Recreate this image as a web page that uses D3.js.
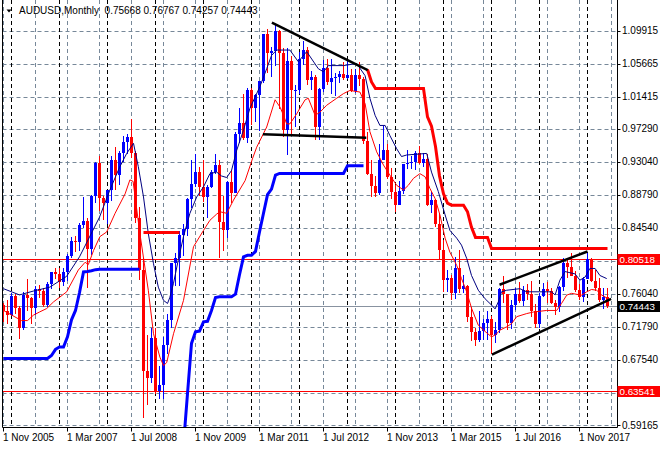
<!DOCTYPE html>
<html><head><meta charset="utf-8">
<script src="https://cdn.jsdelivr.net/npm/d3@7"></script>
<style>
html,body{margin:0;padding:0;background:#fff;}
svg{display:block;}
text{font-family:"Liberation Sans",Arial,sans-serif;font-size:10px;fill:#000;}
</style></head><body>
<svg id="c" width="660" height="450"></svg>
<script>
// ---- data (monthly AUDUSD, bar 0 = Nov 2005) ----
const open = [0.7465,0.7385,0.7335,0.7570,0.7420,0.7160,0.7595,0.7555,0.7425,0.7660,
0.7640,0.7460,0.7735,0.7885,0.7860,0.7760,0.7880,0.8085,0.8280,0.8265,
0.8485,0.8540,0.8180,0.8865,0.9285,0.8840,0.8770,0.8940,0.9330,0.9135,
0.9420,0.9560,0.9625,0.9410,0.8580,0.7905,0.6610,0.6520,0.7030,0.6350,
0.6425,0.6945,0.7265,0.7995,0.8060,0.8365,0.8440,0.8820,0.9015,0.9165,
0.8975,0.8850,0.8975,0.9175,0.9265,0.8530,0.8430,0.9040,0.8905,0.9665,
0.9800,0.9610,1.0225,0.9990,1.0165,1.0340,1.0950,1.0705,1.0725,1.0980,
1.0705,0.9710,1.0595,1.0225,1.0230,1.0625,1.0740,1.0350,1.0390,0.9745,
1.0235,1.0505,1.0335,1.0385,1.0390,1.0435,1.0385,1.0425,1.0210,1.0415,
1.0365,0.9575,0.9140,0.8985,0.8905,0.9325,0.9460,0.9110,0.8920,0.8750,
0.8930,0.9270,0.9290,0.9300,0.9420,0.9290,0.9335,0.8750,0.8805,0.8505,
0.8170,0.7780,0.7805,0.7620,0.7930,0.7665,0.7705,0.7310,0.7110,0.7015,
0.7130,0.7230,0.7285,0.7075,0.7140,0.7665,0.7600,0.7230,0.7455,0.7600,
0.7515,0.7655,0.7605,0.7385,0.7215,0.7580,0.7670,0.7635,0.7480,0.7430,
0.7690,0.7995,0.7950,0.7835,0.7650,0.7565,0.7800,0.8055,0.7765,0.7680,
0.7530,0.75668];
const high = [0.7480,0.7530,0.7620,0.7600,0.7450,0.7630,0.7790,0.7565,0.7700,0.7720,
0.7680,0.7760,0.7890,0.7935,0.7935,0.7930,0.8110,0.8335,0.8345,0.8520,
0.8845,0.8575,0.8870,0.9300,0.9375,0.8865,0.8945,0.9375,0.9495,0.9435,
0.9640,0.9660,0.9850,0.9440,0.8715,0.8065,0.7070,0.7165,0.7160,0.6670,
0.7045,0.7345,0.8000,0.8130,0.8410,0.8500,0.8840,0.9325,0.9405,0.9240,
0.9330,0.9000,0.9200,0.9405,0.9330,0.8860,0.9060,0.9200,0.9690,0.9995,
1.0180,1.0255,1.0255,1.0180,1.0345,1.0950,1.1010,1.0775,1.1080,1.1000,
1.0765,1.0765,1.0660,1.0290,1.0710,1.0855,1.0780,1.0470,1.0420,1.0250,
1.0615,1.0625,1.0625,1.0450,1.0470,1.0590,1.0600,1.0500,1.0500,1.0585,
1.0390,0.9685,0.9320,0.9125,0.9525,0.9760,0.9530,0.9220,0.9000,0.9050,
0.9275,0.9460,0.9375,0.9445,0.9505,0.9420,0.9400,0.8910,0.8830,0.8640,
0.8295,0.7910,0.7845,0.8075,0.8165,0.7840,0.7720,0.7440,0.7165,0.7380,
0.7280,0.7385,0.7325,0.7240,0.7680,0.7835,0.7605,0.7530,0.7675,0.7760,
0.7700,0.7730,0.7775,0.7475,0.7610,0.7740,0.7750,0.7680,0.7520,0.7710,
0.8065,0.8065,0.8125,0.7900,0.7730,0.7815,0.8135,0.8065,0.7915,0.7810,
0.7675,0.76767];
const low = [0.7245,0.7220,0.7320,0.7345,0.7020,0.7135,0.7385,0.7215,0.7330,0.7545,
0.7440,0.7440,0.7665,0.7790,0.7680,0.7710,0.7775,0.8060,0.8145,0.8160,
0.8450,0.7675,0.8100,0.8775,0.8675,0.8560,0.8505,0.8800,0.8935,0.9010,
0.9300,0.9405,0.9355,0.8520,0.7780,0.6009,0.6180,0.6455,0.6320,0.6250,
0.6250,0.6835,0.7170,0.7705,0.7700,0.8090,0.8350,0.8710,0.8975,0.8860,
0.8785,0.8580,0.8960,0.9140,0.8065,0.8160,0.8320,0.8770,0.8895,0.9540,
0.9585,0.9545,0.9775,0.9815,0.9705,1.0315,1.0450,1.0390,1.0530,0.9985,
0.9625,0.9385,0.9665,0.9750,1.0180,1.0545,1.0295,1.0220,0.9580,0.9580,
1.0205,1.0285,1.0180,1.0150,1.0310,1.0360,1.0365,1.0200,1.0185,1.0280,
0.9530,0.9130,0.8850,0.8850,0.8870,0.9325,0.9080,0.8820,0.8660,0.8750,
0.8890,0.9205,0.9205,0.9200,0.9280,0.9240,0.8730,0.8645,0.8460,0.8035,
0.7625,0.7625,0.7530,0.7535,0.7615,0.7610,0.7240,0.7000,0.6935,0.6985,
0.7015,0.7015,0.6825,0.6975,0.7100,0.7490,0.7145,0.7150,0.7395,0.7485,
0.7445,0.7520,0.7310,0.7160,0.7160,0.7560,0.7490,0.7470,0.7330,0.7370,
0.7645,0.7810,0.7830,0.7625,0.7530,0.7500,0.7790,0.7760,0.7640,0.7500,
0.7410,0.74257];
const close = [0.7385,0.7335,0.7570,0.7420,0.7160,0.7595,0.7555,0.7425,0.7660,0.7640,
0.7460,0.7735,0.7885,0.7860,0.7760,0.7880,0.8085,0.8280,0.8265,0.8485,
0.8540,0.8180,0.8865,0.9285,0.8840,0.8770,0.8940,0.9330,0.9135,0.9420,
0.9560,0.9625,0.9410,0.8580,0.7905,0.6610,0.6520,0.7030,0.6350,0.6425,
0.6945,0.7265,0.7995,0.8060,0.8365,0.8440,0.8820,0.9015,0.9165,0.8975,
0.8850,0.8975,0.9175,0.9265,0.8530,0.8430,0.9040,0.8905,0.9665,0.9800,
0.9610,1.0225,0.9990,1.0165,1.0340,1.0950,1.0705,1.0725,1.0980,1.0705,
0.9710,1.0595,1.0225,1.0230,1.0625,1.0740,1.0350,1.0390,0.9745,1.0235,
1.0505,1.0335,1.0385,1.0390,1.0435,1.0385,1.0425,1.0210,1.0415,1.0365,
0.9575,0.9140,0.8985,0.8905,0.9325,0.9460,0.9110,0.8920,0.8750,0.8930,
0.9270,0.9290,0.9300,0.9420,0.9290,0.9335,0.8750,0.8805,0.8505,0.8170,
0.7780,0.7805,0.7620,0.7930,0.7665,0.7705,0.7310,0.7110,0.7015,0.7130,
0.7230,0.7285,0.7075,0.7140,0.7665,0.7600,0.7230,0.7455,0.7600,0.7515,
0.7655,0.7605,0.7385,0.7215,0.7580,0.7670,0.7635,0.7480,0.7430,0.7690,
0.7995,0.7950,0.7835,0.7650,0.7565,0.7800,0.8055,0.7765,0.7680,0.7530,
0.7565,0.74443];

// thin moving-average lines (bar position, price)
const navyBar = [0,4,7.5,11.6,15.8,19,24,26.6,29,30.8,32.5,33.7,35,36.2,37.5,38.7,40,41,41.6,42.5,43.7,45,46.6,48.3,50,51.6,53.3,54.5,55.8,57,58.3,60,61.6,64.1,65.8,67,68.3,71.6,73.7,75.8,78.7,80,81.2,85,88.3,90.4,91.6,92.9,94.1,95.4,96.6,98.3,99.5,100.8,105.8,107,108.7,110.4,111.6,113.3,114.5,115.8,117,118.7,120.4,122,122.9,123.7,124.5,125.8,129.1,130.8,137,137.9,139.1,140.4,142.9,144.1,145.4,146.6,147.9,149.1,150.8];
const navyVal = [0.767,0.759,0.764,0.769,0.783,0.808,0.859,0.894,0.923,0.941,0.954,0.924,0.885,0.838,0.799,0.769,0.752,0.748,0.756,0.774,0.804,0.834,0.864,0.885,0.898,0.915,0.917,0.912,0.910,0.919,0.945,0.971,0.999,1.027,1.050,1.067,1.074,1.074,1.059,1.072,1.050,1.046,1.054,1.054,1.0567,1.041,1.012,0.990,0.977,0.977,0.964,0.947,0.937,0.939,0.941,0.917,0.892,0.862,0.842,0.832,0.823,0.806,0.784,0.765,0.754,0.746,0.741,0.750,0.763,0.765,0.767,0.763,0.763,0.759,0.778,0.789,0.786,0.778,0.782,0.793,0.793,0.784,0.780];
const redBar = [0,4.5,6,7.5,9,10.8,12.5,15.8,18.7,20.4,21.2,22.5,24.1,25.8,27.9,30.4,31.6,32.4,34.1,36.2,37.5,39.1,40,40.8,42.5,45,47.5,50,51.6,53.3,54.1,55.8,57.5,60.4,62.3,63.3,65.8,67.9,69.2,70,70.8,71.6,73.3,74.1,75.4,76.2,77.9,79.1,80.8,83.3,85,86.6,89.1,90.4,91.6,93.3,95,96.6,98.3,100,101.2,102.5,104.1,105.4,106.6,107.9,109.1,110.4,111.6,113.3,114.5,115.8,117,118.7,120.4,122,123.1,124.1,125.8,127,128.3,130.8,132.5,135.8,138.3,139.5,140.8,142,144.5,145.8,147,148.3,149.5,151.2];
const redVal = [0.739,0.726,0.726,0.733,0.737,0.7415,0.750,0.763,0.791,0.801,0.798,0.816,0.834,0.840,0.864,0.889,0.907,0.905,0.838,0.765,0.709,0.679,0.668,0.672,0.709,0.752,0.821,0.842,0.855,0.863,0.866,0.864,0.881,0.906,0.935,0.949,0.975,1.010,1.000,0.990,0.979,0.979,0.992,0.999,1.010,1.012,0.990,0.994,1.003,1.012,1.018,1.022,1.020,1.005,0.969,0.943,0.926,0.913,0.900,0.894,0.900,0.909,0.915,0.911,0.896,0.883,0.862,0.832,0.814,0.797,0.780,0.763,0.742,0.720,0.712,0.705,0.708,0.7136,0.718,0.722,0.731,0.735,0.737,0.739,0.739,0.748,0.7587,0.761,0.7587,0.763,0.766,0.765,0.759,0.754];

// thick trailing-stop lines (bar, price) — up (blue) and down (red) segments
const stopUpBar1 = [0,11,12,13,14,15,16,17,18,19,20,21,22,23,24,34];
const stopUpVal1 = [0.6772,0.6772,0.681,0.689,0.692,0.692,0.705,0.727,0.739,0.762,0.7886,0.789,0.790,0.7915,0.792,0.792];
const stopUpBar2 = [45,46,47,48,49,50,51,52,53,54,57,58,59,60,61,62,63,64,65,66,67,68,69,85,86,90];
const stopUpVal2 = [0.566,0.632,0.6966,0.7115,0.7125,0.7243,0.725,0.739,0.7555,0.7565,0.7565,0.760,0.785,0.808,0.810,0.810,0.815,0.840,0.864,0.888,0.895,0.913,0.9152,0.9152,0.925,0.925];
const stopDnBar1 = [35,44];
const stopDnVal1 = [0.8393,0.8393];
const stopDnBar2 = [91,92,93,105,106,107,108,109,110,111,112,115,116,117,118,121,122,151];
const stopDnVal2 = [1.049,1.033,1.0245,1.0245,0.988,0.976,0.950,0.912,0.889,0.877,0.8745,0.8745,0.866,0.846,0.833,0.833,0.8187,0.8187];

// hand-drawn trend lines: [bar1, price1, bar2, price2]
const trendLines = [[67.1,1.1092,91.05,1.0482],[64.85,0.9656,90.7,0.9613],[124,0.7721,146,0.8149],[122.1,0.6822,151.9,0.7538]];

// horizontal levels
const levels = [0.80518, 0.63541];
const bidPrice = 0.74443;

// axes
const yGrid = [1.09915,1.05665,1.01415,0.97290,0.93040,0.88790,0.84540,0.80290,0.76040,0.71790,0.67540,0.63290,0.59165];
const yLabels = ["1.09915","1.05665","1.01415","0.97290","0.93040","0.88790","0.84540","0.76040","0.71790","0.67540","0.59165"];
const xTickBars = [0,16,32,48,64,80,96,112,128,144];
const xTickLabels = ["1 Nov 2005","1 Mar 2007","1 Jul 2008","1 Nov 2009","1 Mar 2011","1 Jul 2012","1 Nov 2013","1 Mar 2015","1 Jul 2016","1 Nov 2017"];
const gridBars = d3.range(0, 153, 8);
const yearStartBars = [2,14,26,38,50,62,74,86,98,110,122,134,146];
const title = "AUDUSD,Monthly  0.75668 0.76767 0.74257 0.74443";

// ---- drawing ----
const svg = d3.select("#c");
const L = 2.5, R = 617.5, B = 427.5;
const x = d3.scaleLinear().domain([0,151]).range([3.5,607.5]);
const y = d3.scaleLinear().domain([0.59165,1.09915]).range([425.0,30.5]);
const py = v => Math.round(y(v)) + 0.5;

svg.append("defs").append("clipPath").attr("id","clip")
  .append("rect").attr("x",L).attr("y",0).attr("width",R-L).attr("height",B);

const plot = svg.append("g").attr("clip-path","url(#clip)");

// gridlines
plot.selectAll("line.hg").data(yGrid).join("line")
  .attr("x1",L).attr("x2",R).attr("y1",py).attr("y2",py)
  .attr("stroke","#778899").attr("stroke-width",1).attr("stroke-dasharray","4,3");
plot.selectAll("line.vg").data(gridBars).join("line")
  .attr("x1",d=>x(d)).attr("x2",d=>x(d)).attr("y1",0).attr("y2",B)
  .attr("stroke","#778899").attr("stroke-width",1).attr("stroke-dasharray","4,3");
plot.selectAll("line.sep").data(yearStartBars).join("line")
  .attr("x1",d=>x(d)).attr("x2",d=>x(d)).attr("y1",0).attr("y2",B)
  .attr("stroke","#000").attr("stroke-width",1).attr("stroke-dasharray","4,3");

// horizontal level lines
plot.selectAll("line.lvl").data(levels).join("line")
  .attr("x1",L).attr("x2",R).attr("y1",py).attr("y2",py)
  .attr("stroke","#ff0000").attr("stroke-width",1);
plot.append("line").attr("x1",L).attr("x2",R).attr("y1",py(bidPrice)).attr("y2",py(bidPrice))
  .attr("stroke","#8892a0").attr("stroke-width",1);

// candles
const bars = d3.range(open.length);
const col = i => close[i] >= open[i] ? "#0000ff" : "#ff0000";
plot.selectAll("line.wick").data(bars).join("line")
  .attr("x1",i=>x(i)).attr("x2",i=>x(i))
  .attr("y1",i=>y(high[i])).attr("y2",i=>y(low[i]))
  .attr("stroke",col).attr("stroke-width",1).attr("shape-rendering","crispEdges");
plot.selectAll("rect.body").data(bars).join("rect")
  .attr("x",i=>x(i)-1.5).attr("width",3)
  .attr("y",i=>Math.round(y(Math.max(open[i],close[i]))))
  .attr("height",i=>Math.max(1,Math.round(y(Math.min(open[i],close[i])))-Math.round(y(Math.max(open[i],close[i])))))
  .attr("fill",col).attr("shape-rendering","crispEdges");

// lines
const line = d3.line().x(d=>x(d[0])).y(d=>y(d[1]));
const zip = (a,b) => a.map((v,k)=>[v,b[k]]);
function drawPath(a,b,color,w){
  plot.append("path").datum(zip(a,b)).attr("d",line)
    .attr("fill","none").attr("stroke",color).attr("stroke-width",w).attr("stroke-linejoin","miter");
}
drawPath(redBar,redVal,"#ff0000",1);
drawPath(navyBar,navyVal,"#000080",1);
drawPath(stopUpBar1,stopUpVal1,"#0000ff",3);
drawPath(stopUpBar2,stopUpVal2,"#0000ff",3);
drawPath(stopDnBar1,stopDnVal1,"#ff0000",3);
drawPath(stopDnBar2,stopDnVal2,"#ff0000",3);

plot.selectAll("line.trend").data(trendLines).join("line")
  .attr("x1",d=>x(d[0])).attr("y1",d=>y(d[1])).attr("x2",d=>x(d[2])).attr("y2",d=>y(d[3]))
  .attr("stroke","#000").attr("stroke-width",2.5);

// frame
svg.append("path").attr("d",`M${L},0V${B}H${R}V0`).attr("fill","none").attr("stroke","#000").attr("stroke-width",1);

// y axis labels & ticks
svg.selectAll("line.yt").data(yGrid).join("line")
  .attr("x1",R).attr("x2",R+3).attr("y1",py).attr("y2",py).attr("stroke","#000");
svg.selectAll("text.yl").data(yLabels).join("text")
  .attr("x",622).attr("y",d=>y(+d)+3.5).text(d=>d);

// x axis labels & ticks
svg.selectAll("line.xt").data(xTickBars).join("line")
  .attr("x1",d=>x(d)).attr("x2",d=>x(d)).attr("y1",B).attr("y2",B+4).attr("stroke","#000");
svg.selectAll("text.xl").data(xTickBars).join("text")
  .attr("x",d=>x(d)-0.5).attr("y",441).text((d,k)=>xTickLabels[k]);

// price label boxes
const boxes = [[levels[0],"#ff0000"],[levels[1],"#ff0000"],[bidPrice,"#000000"]];
boxes.forEach(([v,c])=>{
  const cy = y(v);
  svg.append("rect").attr("x",R).attr("y",Math.round(cy)-5).attr("width",660-R).attr("height",11).attr("fill",c);
  svg.append("text").attr("x",619.5).attr("y",cy+4).style("fill","#fff").style("font-size","9.8px").text(v.toFixed(5));
});

// title
svg.append("path").attr("d","M6.5,9.5L11.5,9.5L9,12.5Z").attr("fill","#000");
svg.append("text").attr("x",19).attr("y",14).style("white-space","pre").text(title);
</script>
</body></html>
